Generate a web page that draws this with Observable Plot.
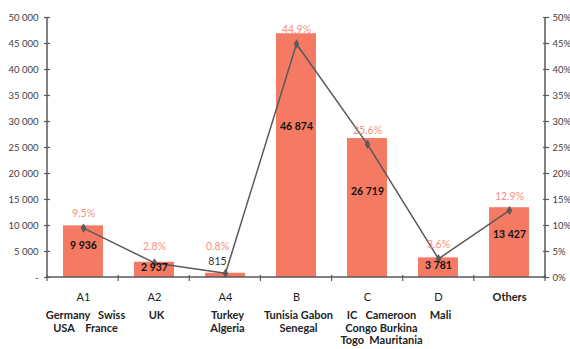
<!DOCTYPE html>
<html><head><meta charset="utf-8">
<script src="https://cdn.jsdelivr.net/npm/d3@7"></script>
<script src="https://cdn.jsdelivr.net/npm/@observablehq/plot@0.6"></script>
<style>body{margin:0;background:#fff}</style>
</head><body><div id="chart"></div>
<script>
const NB = "\u00A0";
const categories = ["A1", "A2", "A4", "B", "C", "D", "Others"];
const volumes = [9936, 2937, 815, 46874, 26719, 3781, 13427];
const shares = [9.5, 2.8, 0.8, 44.9, 25.6, 3.6, 12.9];
const countries = [
  `Germany${NB.repeat(3)}Swiss\nUSA${NB.repeat(4)}France`,
  "UK",
  "Turkey\nAlgeria",
  "Tunisia Gabon\nSenegal",
  `IC${NB.repeat(3)}Cameroon\nCongo Burkina\nTogo${NB.repeat(2)}Mauritania`,
  "Mali",
  ""
];
const leftTicks = [0, 5000, 10000, 15000, 20000, 25000, 30000, 35000, 40000, 45000, 50000];
const leftTickLabels = ["-", "5 000", "10 000", "15 000", "20 000", "25 000", "30 000", "35 000", "40 000", "45 000", "50 000"];
const rightTickLabels = ["0%", "5%", "10%", "15%", "20%", "25%", "30%", "35%", "40%", "45%", "50%"];

const data = categories.map((c, i) => ({cat: c, vol: volumes[i], pct: shares[i], ctry: countries[i]}));
const fmt = v => d3.format(",")(v).replace(/,/g, " ");
const pctScale = 1000; // 1% on the right axis = 1000 on the left axis

const barColor = "#F47A64";
const pctColor = "#F5917D";
const lineColor = "#595959";
const axisColor = "#595959";

const axesMark = (index, scales, values, dims) => {
  const ml = dims.marginLeft, mr = dims.marginRight, W = dims.width;
  const y0 = scales.y(0), yTop = scales.y(50000);
  const step = (W - ml - mr) / categories.length;
  const g = d3.create("svg:g").attr("stroke", axisColor).attr("stroke-width", 1.5);
  g.append("line").attr("x1", ml).attr("x2", ml).attr("y1", yTop).attr("y2", y0);
  g.append("line").attr("x1", W - mr).attr("x2", W - mr).attr("y1", yTop).attr("y2", y0);
  g.append("line").attr("x1", ml).attr("x2", W - mr).attr("y1", y0).attr("y2", y0);
  for (let i = 0; i <= categories.length; i++) {
    const x = ml + step * i;
    g.append("line").attr("x1", x).attr("x2", x).attr("y1", y0 - 2).attr("y2", y0 + 4).attr("stroke-width", 1.2);
  }
  return g.node();
};

const small = d => d.vol < 2000;
const ctryOpts = {x: "cat", y: () => 0, text: "ctry", dy: 33, lineAnchor: "top", lineHeight: 1.14, fill: "#222", fontSize: 11, fontWeight: "bold"};

const chart = Plot.plot({
  width: 570,
  height: 349,
  marginLeft: 47,
  marginRight: 25,
  marginTop: 17,
  marginBottom: 72,
  style: {fontFamily: "Lato, 'Open Sans', sans-serif", fontSize: "10px", color: "#404040", background: "#fff"},
  x: {domain: categories, paddingInner: 0.44, paddingOuter: 0.22, axis: null},
  y: {domain: [0, 50000], axis: null},
  marks: [
    Plot.barY(data, {x: "cat", y: "vol", fill: barColor}),
    Plot.line(data, {x: "cat", y: d => d.pct * pctScale, stroke: lineColor, strokeWidth: 1.5}),
    Plot.dot(data, {x: "cat", y: d => d.pct * pctScale, symbol: "diamond", r: 2.6, fill: lineColor, stroke: lineColor, strokeWidth: 0.5}),
    Plot.text(data.filter(d => !small(d)), {x: "cat", y: d => d.vol * 0.62, text: d => fmt(d.vol), fill: "#111", fontWeight: "bold", fontSize: 10.5}),
    Plot.text(data.filter(small), {x: "cat", y: "vol", text: d => fmt(d.vol), fill: "#333", fontSize: 10.5, dy: -12, dx: -8}),
    Plot.text(data.filter(d => !small(d)), {x: "cat", y: d => (Math.max(d.pct, 3.2) + 2.7) * pctScale, text: d => d.pct.toFixed(1) + "%", fill: pctColor, fontSize: 10.5}),
    Plot.text(data.filter(small), {x: "cat", y: d => (Math.max(d.pct, 3.2) + 2.7) * pctScale, text: d => d.pct.toFixed(1) + "%", fill: pctColor, fontSize: 10.5, dx: -8}),
    axesMark,
    Plot.axisY({anchor: "left", label: null, ticks: leftTicks, tickFormat: (d, i) => leftTickLabels[i], tickSize: 6, dx: 3, tickPadding: 6, stroke: axisColor, strokeWidth: 1.2, fontSize: 9.5, fill: "#404040"}),
    Plot.axisY({anchor: "right", label: null, ticks: leftTicks, tickFormat: (d, i) => rightTickLabels[i], tickSize: 6, dx: -3, tickPadding: 4, stroke: axisColor, strokeWidth: 1.2, fontSize: 9.5, fill: "#404040"}),
    Plot.text(data.filter(d => d.cat !== "Others"), {x: "cat", y: () => 0, text: "cat", dy: 20, fill: "#222", fontSize: 11}),
    Plot.text(data.filter(d => d.cat === "Others"), {x: "cat", y: () => 0, text: "cat", dy: 20, fill: "#222", fontSize: 11, fontWeight: "bold"}),
    Plot.text(data.filter(d => d.cat !== "C"), {...ctryOpts, dx: 2}),
    Plot.text(data.filter(d => d.cat === "C"), {...ctryOpts, dx: 14})
  ]
});
document.getElementById("chart").appendChild(chart);
</script>
</body></html>
